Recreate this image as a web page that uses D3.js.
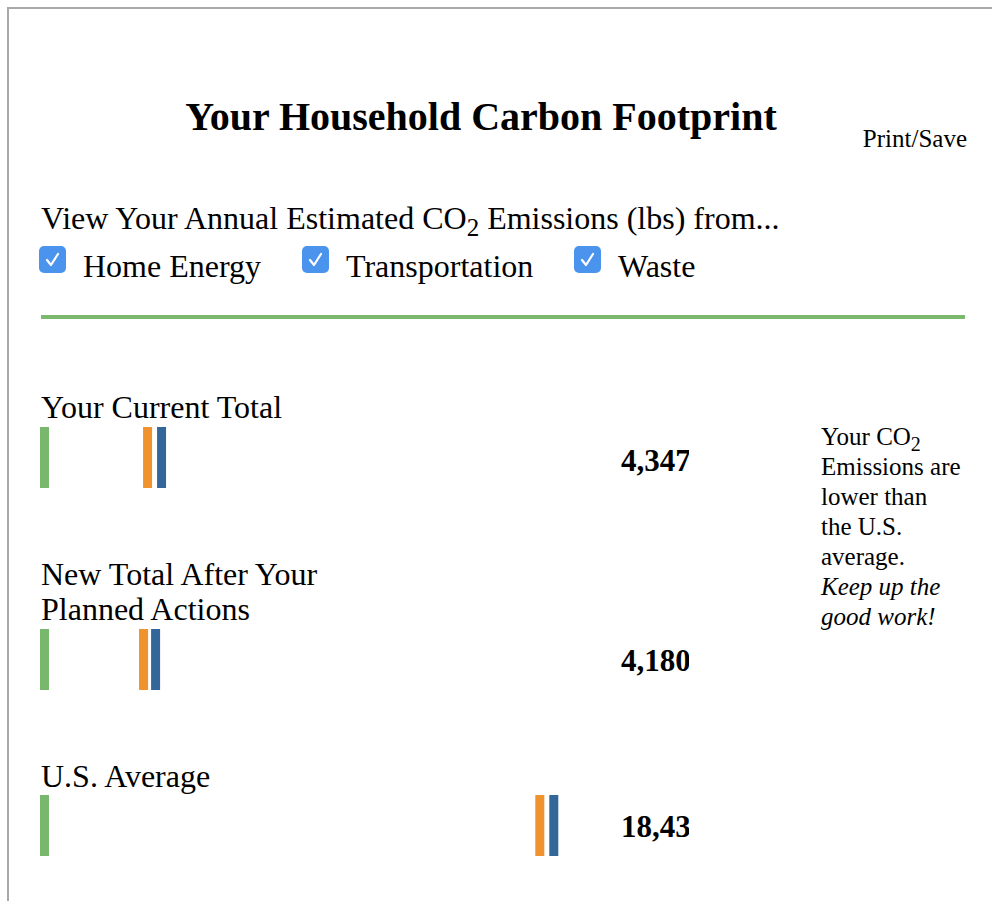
<!DOCTYPE html>
<html>
<head>
<meta charset="utf-8">
<script src="https://cdn.jsdelivr.net/npm/d3@7"></script>
<style>
  body { margin: 0; background: #fff; }
  svg { display: block; font-family: 'Liberation Serif', 'Times New Roman', serif; }
</style>
</head>
<body>
<svg id="chart" width="992" height="901"></svg>
<script>
// data
var rows = ['Your Current Total', 'New Total After Your Planned Actions', 'U.S. Average'];
var sources = ['Home Energy', 'Transportation', 'Waste'];
var homeEnergy = [3704, 3560, 17800];
var transportation = [503, 432, 503];
var waste = [140, 188, 133];
var totals = [4347, 4180, 18436];
var message = ['Your CO|2', 'Emissions are', 'lower than', 'the U.S.', 'average.'];
var messageItalic = ['Keep up the', 'good work!'];

var colors = { 'Home Energy': '#78b86c', 'Transportation': '#f0922e', 'Waste': '#336699' };

var svg = d3.select('#chart');

// page frame
svg.append('rect').attr('x', 8).attr('y', 8).attr('width', 1200).attr('height', 1200)
	.attr('fill', 'none').attr('stroke', '#a9a9a9').attr('stroke-width', 2);

svg.append('text').attr('x', 481).attr('y', 130).attr('text-anchor', 'middle')
	.attr('font-size', 40).attr('font-weight', 'bold').text('Your Household Carbon Footprint');
svg.append('text').attr('x', 967).attr('y', 147).attr('text-anchor', 'end')
	.attr('font-size', 25).text('Print/Save');

var intro = svg.append('text').attr('x', 41).attr('y', 229).attr('font-size', 32);
intro.append('tspan').text('View Your Annual Estimated CO');
intro.append('tspan').attr('font-size', 25).attr('dy', 7).text('2');
intro.append('tspan').attr('dy', -7).text(' Emissions (lbs) from...');

// checkboxes
var boxX = [39, 302, 574];
var boxes = svg.selectAll('.box').data(sources).enter().append('g')
	.attr('class', 'box')
	.attr('transform', function(d, i) { return 'translate(' + boxX[i] + ',246)'; });
boxes.append('rect').attr('width', 27).attr('height', 27).attr('rx', 5).attr('fill', '#4a94ee');
boxes.append('path').attr('d', 'M8,14 L12,19 L19,8').attr('fill', 'none')
	.attr('stroke', '#fff').attr('stroke-width', 2.2).attr('stroke-linecap', 'round').attr('stroke-linejoin', 'round');
boxes.append('text').attr('x', 44).attr('y', 31).attr('font-size', 32).text(function(d) { return d; });

svg.append('line').attr('x1', 41).attr('x2', 965).attr('y1', 317).attr('y2', 317)
	.attr('stroke', '#7cb96f').attr('stroke-width', 4);

// bars
var x = d3.scaleLinear().domain([0, d3.max(totals)]).range([40, 553]);
var layout = [
	{ labelY: [418], barY: 427, valueY: 471 },
	{ labelY: [585, 620], barY: 629, valueY: 671 },
	{ labelY: [787], barY: 795, valueY: 837 }
];
var barHeight = 61, segWidth = 9;

var defs = svg.append('defs');
defs.append('clipPath').attr('id', 'valclip').append('rect')
	.attr('x', 600).attr('y', 0).attr('width', 89).attr('height', 901);

var labelLines = [['Your Current Total'], ['New Total After Your', 'Planned Actions'], ['U.S. Average']];

rows.forEach(function(r, i) {
	var g = svg.append('g');
	var t = g.append('text').attr('font-size', 32);
	labelLines[i].forEach(function(line, j) {
		t.append('tspan').attr('x', 41).attr('y', layout[i].labelY[j]).text(line);
	});
	var segs = [
		{ key: 'Home Energy', start: 0 },
		{ key: 'Transportation', start: homeEnergy[i] },
		{ key: 'Waste', start: homeEnergy[i] + transportation[i] }
	];
	g.selectAll('rect').data(segs).enter().append('rect')
		.attr('x', function(d) { return x(d.start); })
		.attr('y', layout[i].barY)
		.attr('width', segWidth)
		.attr('height', barHeight)
		.attr('fill', function(d) { return colors[d.key]; });
	g.append('text').attr('x', 621).attr('y', layout[i].valueY)
		.attr('font-size', 31).attr('font-weight', 'bold')
		.attr('clip-path', 'url(#valclip)')
		.text(d3.format(',')(totals[i]));
});

// side message
var msg = svg.append('text').attr('font-size', 25);
message.forEach(function(line, i) {
	var parts = line.split('|');
	msg.append('tspan').attr('x', 821).attr('y', 445 + i * 30).text(parts[0]);
	if (parts[1]) msg.append('tspan').attr('font-size', 20).attr('dy', 6).text(parts[1]);
});
messageItalic.forEach(function(line, i) {
	msg.append('tspan').attr('x', 821).attr('y', 445 + (message.length + i) * 30)
		.attr('font-style', 'italic').text(line);
});
</script>
</body>
</html>
